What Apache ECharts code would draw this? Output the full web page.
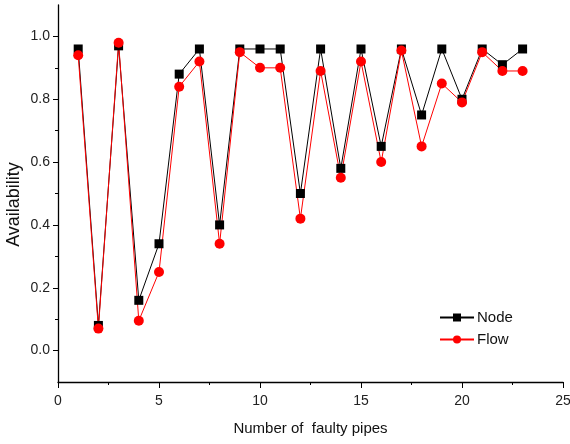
<!DOCTYPE html>
<html><head><meta charset="utf-8">
<script src="https://cdn.jsdelivr.net/npm/echarts@6/dist/echarts.min.js"></script>
<style>html,body{margin:0;padding:0;background:#fff}#c{width:570px;height:444px}</style>
</head><body><div id="c"></div>
<script>
var faultyPipes = [1,2,3,4,5,6,7,8,9,10,11,12,13,14,15,16,17,18,19,20,21,22,23];
var nodeValues = [0.96,0.08,0.97,0.16,0.34,0.88,0.96,0.40,0.96,0.96,0.96,0.50,0.96,0.58,0.96,0.65,0.96,0.75,0.96,0.80,0.96,0.91,0.96];
var flowValues = [0.94,0.07,0.98,0.095,0.25,0.84,0.92,0.34,0.95,0.90,0.90,0.42,0.89,0.55,0.92,0.60,0.955,0.65,0.85,0.79,0.95,0.89,0.89];
var xLabels = ['0','5','10','15','20','25'];
var yTickValues = [0,0.2,0.4,0.6,0.8,1.0];
var yMinorTickValues = [0.1,0.3,0.5,0.7,0.9];

function pairs(xs, ys){ return xs.map(function(x,i){ return [x, ys[i]]; }); }
var font = '"Liberation Sans", Arial, sans-serif';
var chart = echarts.init(document.getElementById('c'), null, {renderer:'canvas'});
chart.setOption({
  animation:false,
  grid:{left:58,right:7,top:5,bottom:62,containLabel:false,outerBoundsMode:'none'},
  graphic:[{
    type:'text', x:14, y:204.5, rotation:Math.PI/2,
    style:{text:'Availability', fontFamily:font, fontSize:18, fill:'#111', align:'center', verticalAlign:'middle'}
  }],
  legend:{
    data:['Node','Flow'], orient:'vertical', left:439, top:310, padding:0,
    itemWidth:34, itemHeight:10, itemGap:7,
    textStyle:{fontFamily:font,fontSize:15,color:'#111',padding:[0,0,0,-2]}
  },
  xAxis:{
    type:'value', min:0, max:25, interval:5,
    name:'Number of  faulty pipes', nameLocation:'middle', nameGap:39,
    nameTextStyle:{fontFamily:font,fontSize:15,color:'#111'},
    axisLine:{onZero:false,lineStyle:{color:'#000',width:1.3}},
    axisTick:{inside:false,length:6,lineStyle:{color:'#000'}},
    minorTick:{show:true,splitNumber:2,length:3,lineStyle:{color:'#000'}},
    axisLabel:{fontFamily:font,fontSize:14,color:'#222',margin:12,
      formatter:function(v){ var i=xLabels.indexOf(String(v)); return i>=0?xLabels[i]:''; }},
    splitLine:{show:false}
  },
  yAxis:[{
    type:'value', min:-0.1, max:1.1,
    axisLine:{show:true,onZero:false,lineStyle:{color:'#000',width:1.3}},
    axisTick:{show:true,inside:false,length:5,lineStyle:{color:'#000'},customValues:yTickValues},
    axisLabel:{fontFamily:font,fontSize:14,color:'#222',margin:8,customValues:yTickValues,
      formatter:function(v){ return v.toFixed(1); }},
    splitLine:{show:false}
  },{
    type:'value', min:-0.1, max:1.1, position:'left',
    axisLine:{show:false},
    axisTick:{show:true,inside:false,length:3,lineStyle:{color:'#000'},customValues:yMinorTickValues},
    axisLabel:{show:false},
    splitLine:{show:false}
  }],
  series:[
    {name:'Node',type:'line',data:pairs(faultyPipes,nodeValues),symbol:'rect',symbolSize:9,
     itemStyle:{color:'#000'},lineStyle:{color:'#000',width:1}},
    {name:'Flow',type:'line',data:pairs(faultyPipes,flowValues),symbol:'circle',symbolSize:10,
     itemStyle:{color:'#ff0000'},lineStyle:{color:'#ff0000',width:1}}
  ]
});
</script></body></html>
